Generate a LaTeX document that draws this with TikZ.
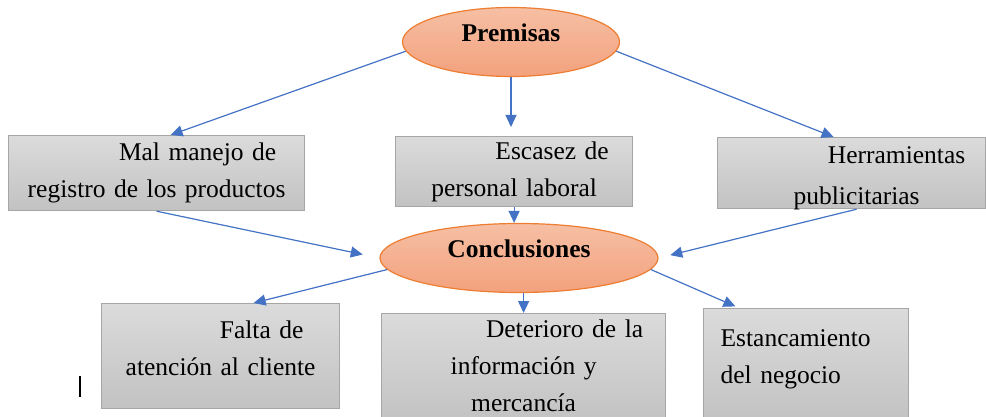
\documentclass[tikz,border=0pt]{standalone}
\usepackage{fontspec}
\setmainfont{Liberation Serif}
\usetikzlibrary{arrows.meta,shapes.geometric}

\definecolor{lineblue}{HTML}{4472C4}
\definecolor{ideaedge}{HTML}{ED7D31}
\definecolor{ideatop}{HTML}{F6BFA4}
\definecolor{ideabot}{HTML}{F3A17D}
\definecolor{boxedge}{HTML}{A6A6A6}
\definecolor{boxtop}{HTML}{DBDBDB}
\definecolor{boxbot}{HTML}{C2C2C2}

\begin{document}
\begin{tikzpicture}[x=1pt,y=-1pt,>={Triangle[length=12pt,width=11pt]}]
\tikzstyle{every node}=[font=\fontsize{25.5}{37}\selectfont]
\tikzstyle{idea}=[ellipse,draw=ideaedge,line width=1.2pt,top color=ideatop,bottom color=ideabot,
  minimum width=217pt,minimum height=69pt,text height=18pt,text depth=18pt,
  font=\bfseries\fontsize{25.5}{37}\selectfont]
\tikzstyle{hecho}=[rectangle,draw=boxedge,line width=1.2pt,top color=boxtop,bottom color=boxbot,
  anchor=north west,inner xsep=0pt,align=center]
\useasboundingbox (0,0) rectangle (986,417);

% ovals
\node[idea] (prem) at (511,42) {Premisas};
\node[idea,minimum width=278pt] (conc) at (519,258) {Conclusiones};

% premises
\node[hecho,text width=296pt,minimum height=75pt] (mal) at (8,135)
  {\hspace*{82pt}Mal manejo de\\registro de los productos};
\node[hecho,text width=237pt,minimum height=70pt] (esc) at (395,136)
  {\hspace*{76pt}Escasez de\\personal laboral};
\node[hecho,text width=268pt,minimum height=71pt,text depth=36pt] (herr) at (717,137)
  {\hspace*{90pt}Herramientas\\[4pt]\hspace*{10pt}publicitarias};

% conclusions
\node[hecho,text width=238pt,minimum height=105pt,text depth=53pt] (falta) at (101,303)
  {\hspace*{82pt}Falta de\\atención al cliente};
\node[hecho,text width=284pt,minimum height=109pt,text depth=78pt] (det) at (381,313)
  {\hspace*{82pt}Deterioro de la\\información y\\mercancía};
\node[hecho,text width=171pt,inner xsep=17pt,minimum height=114pt,align=left,text depth=55pt] (est) at (703,308)
  {Estancamiento\\del negocio};

\path[->,color=lineblue,line width=1.2pt]
(prem.185) edge ([xshift=14pt]mal.north)
(prem.south) edge[shorten >=9pt] (prem.south |- esc.north)
(prem.355) edge ([xshift=-18pt]herr.north)
(mal.south) edge[shorten >=17pt] (conc.west)
(esc.south) edge (esc.south |- conc.north)
([xshift=5pt]herr.south) edge[shorten >=12pt] (conc.east)
(conc.185) edge ([xshift=33pt]falta.north)
(conc.south -| det.north) edge (det.north)
(conc.355) edge[shorten >=4pt] ([xshift=-67pt]est.north)
;

% cursor mark
\draw[line width=1.6pt] (80,376) -- (80,397);
\end{tikzpicture}
\end{document}
